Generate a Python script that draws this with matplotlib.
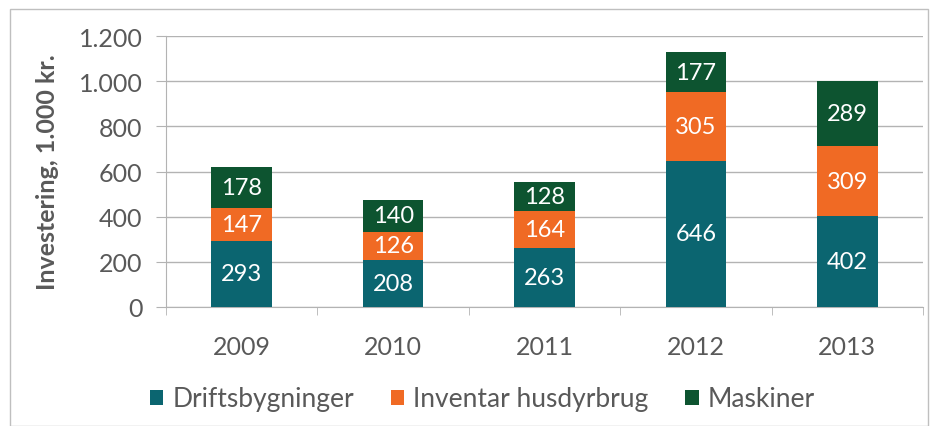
import numpy as np
import matplotlib.pyplot as plt
from matplotlib.patches import Rectangle

years = ['2009', '2010', '2011', '2012', '2013']
drift = [293, 208, 263, 646, 402]
inventar = [147, 126, 164, 305, 309]
maskiner = [178, 140, 128, 177, 289]
series = [('Driftsbygninger', drift, '#0b6570'),
          ('Inventar husdyrbrug', inventar, '#f06a24'),
          ('Maskiner', maskiner, '#0d5430')]

plt.rcParams['font.family'] = ['Lato', 'DejaVu Sans']
txt = '#595959'

fig = plt.figure(figsize=(9.38, 4.27), dpi=100)
fig.patches.append(Rectangle((10/938, 0), 1 - 20/938, 1 - 10/427, transform=fig.transFigure,
                             fill=False, edgecolor='#bfbfbf', linewidth=1))
ax = fig.add_axes([0.177, 0.279, 0.807, 0.634])

x = np.arange(len(years))
bottom = np.zeros(len(years))
for name, vals, col in series:
    bars = ax.bar(x, vals, width=0.4, bottom=bottom, color=col, label=name, zorder=3)
    for b, v in zip(bars, vals):
        ax.text(b.get_x() + b.get_width()/2, b.get_y() + v/2, str(v), ha='center', va='center',
                color='white', fontsize=17, zorder=4)
    bottom += np.array(vals)

ax.set_xlim(-0.5, len(years) - 0.5)
ax.set_ylim(0, 1200)
ax.set_yticks(range(0, 1201, 200))
ax.set_yticklabels(['0', '200', '400', '600', '800', '1.000', '1.200'])
ax.yaxis.grid(True, color='#b3b3b3', linewidth=1, zorder=0)
ax.set_xticks(x)
ax.set_xticklabels(years)
ax.set_xticks(np.arange(-0.5, len(years)), minor=True)
ax.tick_params(axis='x', which='major', length=0, pad=20, labelsize=18, labelcolor=txt)
ax.tick_params(axis='x', which='minor', length=6, color='#b3b3b3')
ax.tick_params(axis='y', length=7, color='#b3b3b3', labelsize=18, labelcolor=txt, pad=10)
for s in ['top', 'right']:
    ax.spines[s].set_visible(False)
ax.spines['left'].set_color('#b3b3b3')
ax.spines['bottom'].set_color('#b3b3b3')
ax.set_ylabel('Investering, 1.000 kr.', fontsize=18, fontweight='bold', color=txt, labelpad=14)

ax.legend(loc='center', bbox_to_anchor=(0.418, -0.34), ncol=3, frameon=False, fontsize=19,
          labelcolor=txt, handlelength=0.5, handleheight=0.5, handletextpad=0.35, columnspacing=1.4)

fig.savefig('out.png', dpi=100)
